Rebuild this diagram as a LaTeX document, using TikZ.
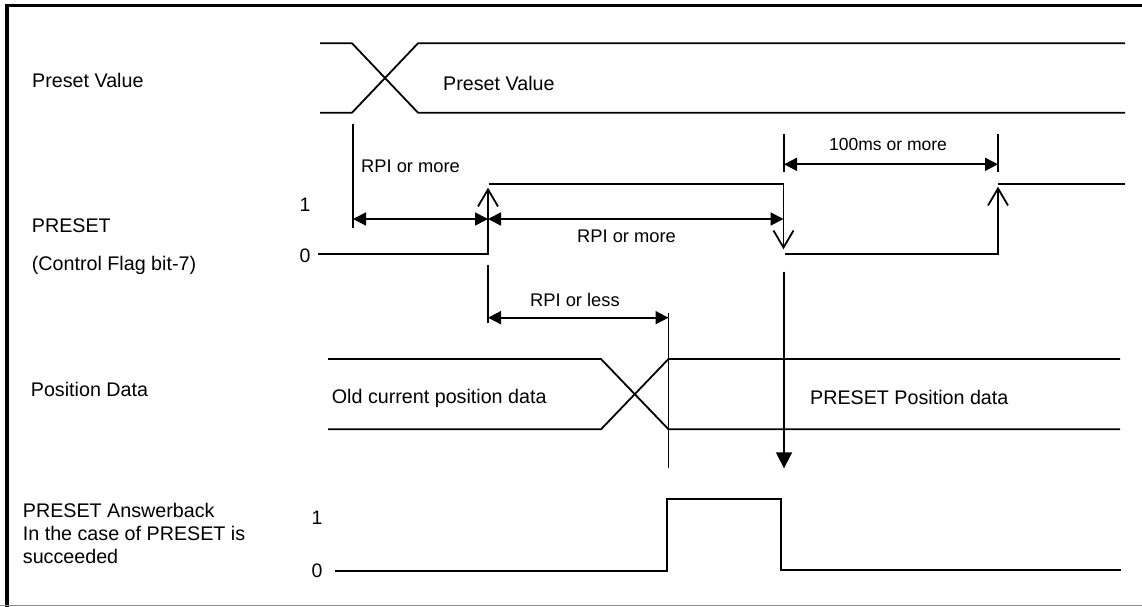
\documentclass[tikz,border=0pt]{standalone}
\usepackage{fontspec}
\setmainfont{Liberation Sans}
\usetikzlibrary{arrows.meta}
\begin{document}
\begin{tikzpicture}[x=1pt,y=-1pt,
  sig/.style={line width=1.8pt},
  ticker/.style={line width=1.4pt},
  dim/.style={line width=1.8pt,{Triangle[length=13pt,width=13pt]}-{Triangle[length=13pt,width=13pt]}},
  edgearrow/.style={line width=1.8pt,line join=miter,-{Straight Barb[length=17pt,width=20pt,line width=1.8pt]}},
  lbl/.style={inner sep=0pt,anchor=base west,font=\fontsize{19.7}{23}\selectfont},
  ann/.style={inner sep=0pt,anchor=base west,font=\fontsize{18.3}{22}\selectfont},
  lvl/.style={inner sep=0pt,anchor=base,font=\fontsize{19.5}{23}\selectfont},
]
\useasboundingbox (0,0) rectangle (1142,607);
% frame
\draw[line width=3.5pt] (5,5.5) -- (1142,5.5);
\draw[line width=4pt] (7,3.75) -- (7,607);
\draw[black!45, line width=1.2pt] (0,605.6) -- (1142,605.6);

% left labels
\node[lbl] (lpv) at (32,87.7) {Preset Value};
\node[lbl] (lpr) at (31.7,232.7) {PRESET};
\node[lbl] (lcf) at (31.7,270) {(Control Flag bit-7)};
\node[lbl] (lpd) at (30.7,396.7) {Position Data};
\node[lbl] (lab1) at (22.7,517.3) {PRESET Answerback};
\node[lbl] (lab2) at (22.7,540.5) {In the case of PRESET is};
\node[lbl] (lab3) at (22.7,563.7) {succeeded};

% level labels
\node[lvl] (p1) at (305,211.7) {1};
\node[lvl] (p0) at (305,262) {0};
\node[lvl] (a1) at (317,524) {1};
\node[lvl] (a0) at (317,577.3) {0};

% Preset Value bus
\draw[sig] (320,43.3) -- (352,43.3) -- (418,112.7) -- (1125,112.7);
\draw[sig] (320,112.7) -- (352,112.7) -- (418,43.3) -- (1125,43.3);
\node[lbl] (tpv) at (443,91) {Preset Value};

% RPI or more (first)
\draw[ticker] (353,124) -- (353,228);
\draw[dim] (353,219) -- (488,219);
\node[ann] (t1) at (361,172) {RPI or more};

% PRESET signal
\draw[edgearrow] (318,253.7) -- (488,253.7) -- (488,187.7);
\draw[edgearrow] (489,184) -- (783.5,184) -- (783.5,249.3);
\draw[edgearrow] (785,253.7) -- (998,253.7) -- (998,186.7);
\draw[sig] (998,184.3) -- (1125,184.3);

% RPI or more (second)
\draw[dim] (488,219) -- (783.5,219);
\node[ann] (t2) at (577,242.3) {RPI or more};

% 100ms or more
\draw[ticker] (784,134) -- (784,171.7);
\draw[ticker] (998,134) -- (998,171.7);
\draw[dim] (784,164.3) -- (998,164.3);
\node[ann,font=\fontsize{17.5}{21}\selectfont] (t3) at (829,150) {100ms or more};

% RPI or less
\draw[ticker] (488,265) -- (488,323);
\draw[dim] (488,317.7) -- (668.5,317.7);
\draw[ticker] (668.5,312.7) -- (668.5,468);
\node[ann] (t4) at (530,306.7) {RPI or less};

% big arrow
\draw[line width=1.8pt,-{Triangle[length=16pt,width=16pt]}] (784,271.7) -- (784,468.3);

% Position data bus
\draw[sig] (328,359) -- (601,359) -- (668.5,429.3) -- (1120,429.3);
\draw[sig] (328,429.3) -- (601,429.3) -- (668.5,359) -- (1120,359);
\node[lbl] (tod) at (331.7,403.3) {Old current position data};
\node[lbl] (tnd) at (810,404) {PRESET Position data};

% Answerback
\draw[sig] (335,570.7) -- (667,570.7) -- (667,499.3) -- (781,499.3) -- (781,570) -- (1121,570);
\end{tikzpicture}
\end{document}
